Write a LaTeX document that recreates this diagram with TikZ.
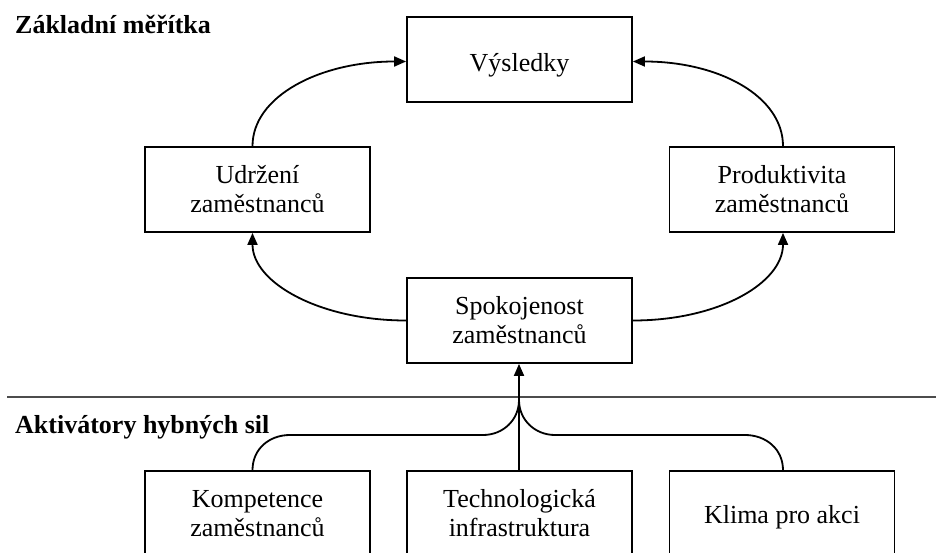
\documentclass[tikz,border=0pt]{standalone}
\usepackage{fontspec}
\setmainfont{Liberation Serif}
\usetikzlibrary{arrows.meta,calc}
\begin{document}
\begin{tikzpicture}[x=1pt,y=-1pt,
  box/.style={draw, line width=1.8pt, minimum width=225pt, minimum height=85pt,
    inner sep=0pt, align=center, font=\fontsize{26}{29}\selectfont},
  link/.style={line width=1.8pt},
  arr/.style={line width=1.8pt, -{Triangle[length=12pt,width=10pt]}},
  heading/.style={anchor=base west, inner sep=0pt,
    font=\fontsize{26}{29}\selectfont\bfseries}]
\useasboundingbox (0,0) rectangle (936,553);
\clip (0,0) rectangle (936,553);

% core measures
\node[box, text height=25pt, text depth=0pt] (vys) at (519.5,59.5) {Výsledky};
\node[box] (udr) at (257.5,189.5) {Udržení\\zaměstnanců};
\node[box] (pro) at (782,189.5) {Produktivita\\zaměstnanců};
\node[box] (spo) at (519.5,320.5) {Spokojenost\\zaměstnanců};

% drivers
\node[box] (kom) at (257.5,513.5) {Kompetence\\zaměstnanců};
\node[box] (tec) at (519.5,513.5) {Technologická\\infrastruktura};
\node[box, text height=19.6pt, text depth=0pt] (kli) at (782,513.5) {Klima pro akci};

\node[heading] (h1) at (15,34) {Základní měřítka};
\node[heading] (h2) at (15,433) {Aktivátory hybných sil};

% divider
\coordinate (divL) at (7,397);
\coordinate (divR) at (936,397);
\draw[line width=1.8pt, black!70] (divL) -- (divR);

% cycle of core measures
\draw[arr] ([xshift=-5pt]udr.north) .. controls +(0,-50) and +(-86,0) .. ([yshift=-2pt]vys.west);
\draw[arr] ([xshift=1pt]pro.north) .. controls +(0,-50) and +(86,0) .. ([yshift=-2pt]vys.east);
\draw[arr] (spo.west) .. controls +(-86,0) and +(0,50) .. ([xshift=-5pt]udr.south);
\draw[arr] (spo.east) .. controls +(86,0) and +(0,50) .. ([xshift=1pt]pro.south);

% drivers feeding satisfaction
\coordinate (jn) at (519,400);
\coordinate (l1) at (290,435);
\coordinate (l2) at (483,435);
\coordinate (r1) at (555,435);
\coordinate (r2) at (745,435);
\draw[arr] ([xshift=-0.5pt]tec.north) -- ([xshift=-0.5pt]spo.south);
\draw[link] ([xshift=-5pt]kom.north) .. controls +(0,-21) and +(-21,0) .. (l1)
  -- (l2) .. controls +(20,0) and +(0,20) .. (jn);
\draw[link] (jn) .. controls +(0,20) and +(-20,0) .. (r1)
  -- (r2) .. controls +(21,0) and +(0,-21) .. ([xshift=1pt]kli.north);
\end{tikzpicture}
\end{document}
